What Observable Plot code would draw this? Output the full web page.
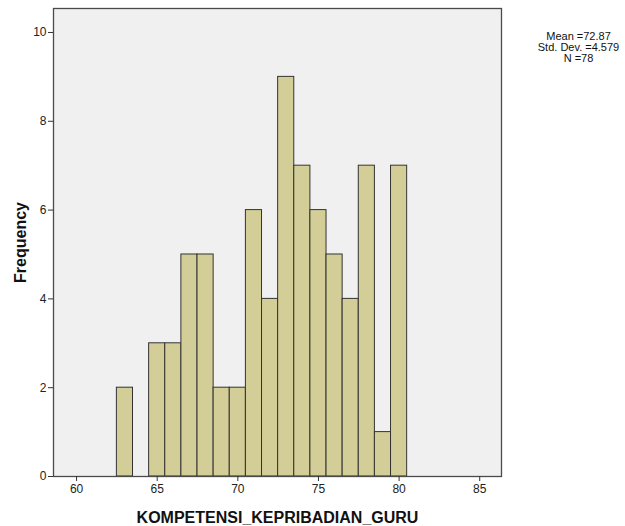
<!DOCTYPE html>
<html>
<head>
<meta charset="utf-8">
<script src="https://cdn.jsdelivr.net/npm/d3@7"></script>
<script src="https://cdn.jsdelivr.net/npm/@observablehq/plot@0.6"></script>
<style>
  html, body { margin: 0; padding: 0; background: #ffffff; }
  #chart svg { display: block; }
</style>
</head>
<body>
<div id="chart"></div>
<script>
// Histogram bins (lower edge, upper edge) and frequencies
const binLower = [62.5, 63.5, 64.5, 65.5, 66.5, 67.5, 68.5, 69.5, 70.5, 71.5, 72.5, 73.5, 74.5, 75.5, 76.5, 77.5, 78.5, 79.5];
const binUpper = [63.5, 64.5, 65.5, 66.5, 67.5, 68.5, 69.5, 70.5, 71.5, 72.5, 73.5, 74.5, 75.5, 76.5, 77.5, 78.5, 79.5, 80.5];
const counts   = [2, 0, 3, 3, 5, 5, 2, 2, 6, 4, 9, 7, 6, 5, 4, 7, 1, 7];

const xTicks = [60, 65, 70, 75, 80, 85];
const yTicks = [0, 2, 4, 6, 8, 10];

const statLabels = ["Mean =", "Std. Dev. =", "N ="];
const statValues = ["72.87", "4.579", "78"];

const xLabel = "KOMPETENSI_KEPRIBADIAN_GURU";
const yLabel = "Frequency";

const bins = binLower.map((lo, i) => ({x1: lo, x2: binUpper[i], y: counts[i]})).filter(d => d.y > 0);
const statText = statLabels.map((l, i) => l + statValues[i]).join("\n");

const chart = Plot.plot({
  width: 625,
  height: 526,
  marginLeft: 53,
  marginRight: 124,
  marginTop: 8,
  marginBottom: 50,
  style: {fontFamily: "'Liberation Sans', Arial, sans-serif", fontSize: "12px", color: "#222", background: "#ffffff"},
  x: {domain: [58.57, 86.35]},
  y: {domain: [0, 10.54]},
  marks: [
    Plot.frame({fill: "#f0f0f0", stroke: null}),
    Plot.rectY(bins, {x1: "x1", x2: "x2", y: "y", fill: "#d3ce98", stroke: "#333333", strokeWidth: 1}),
    Plot.frame({stroke: "#4a4a4a", strokeWidth: 1.3}),
    Plot.axisX({ticks: xTicks, tickSize: 5, tickPadding: 3, label: null, stroke: "#333", fill: "#222"}),
    Plot.axisY({ticks: yTicks, tickSize: 5, tickPadding: 2, label: null, stroke: "#333", fill: "#222"}),
    Plot.text([yLabel], {frameAnchor: "left", rotate: -90, dx: -33, text: d => d, textAnchor: "middle", lineAnchor: "middle", fontWeight: "bold", fontSize: 16, fill: "#111"}),
    Plot.text([xLabel], {frameAnchor: "bottom", dy: 41, text: d => d, textAnchor: "middle", lineAnchor: "middle", fontWeight: "bold", fontSize: 16, fill: "#111"}),
    Plot.text([statText], {frameAnchor: "top-right", dx: 77, dy: 39, text: d => d, fontSize: 11, lineHeight: 1.0, textAnchor: "middle", lineAnchor: "middle", fill: "#111"})
  ]
});
document.getElementById("chart").appendChild(chart);
</script>
</body>
</html>
